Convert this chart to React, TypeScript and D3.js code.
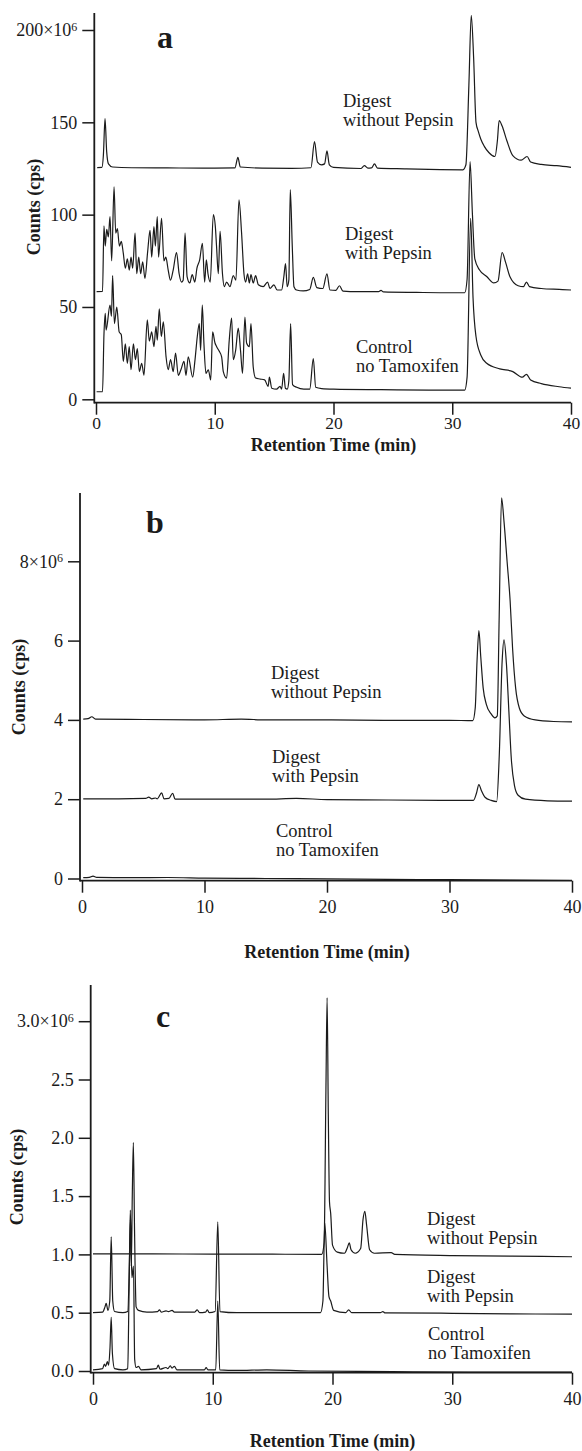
import React, { useEffect, useRef } from 'react'
import * as d3 from 'd3'

// retention time ticks shared by the three panels
const xTicks = [0, 10, 20, 30, 40]
const aTicks = [0, 50, 100, 150, 200]
const bTicks = [0, 2, 4, 6, 8]
const cTicks = [0, 0.5, 1, 1.5, 2, 2.5, 3]

const sampleNames = [
  ['Digest', 'without Pepsin'],
  ['Digest', 'with Pepsin'],
  ['Control', 'no Tamoxifen'],
]

// panel a : counts x10^6, [min, counts]
const aWithout = [[0.1,125.5],[0.5,125.6],[0.62,132],[0.76,152],[0.9,134],[1.05,127.5],[1.4,125.8],[3,125.4],[6,125.3],[9,125.2],[11.7,125.3],[11.95,131],[12.15,125.8],[14,125.2],[16.5,125.1],[18.1,125.4],[18.4,139.5],[18.65,128.5],[19.0,127],[19.25,127.5],[19.45,134.5],[19.65,127],[20,125.6],[22.3,125],[22.6,126.5],[22.9,125.2],[23.2,125.3],[23.45,127.5],[23.7,125.2],[26,124.8],[29,124.4],[30.9,124.3],[31.15,127],[31.4,170],[31.6,208],[31.8,185],[32.0,150],[32.2,145],[32.4,141],[32.7,137],[33.1,133.5],[33.6,131.5],[33.8,140],[33.95,151],[34.2,148],[34.6,140],[35.1,132],[35.8,129.5],[36.3,131.5],[36.6,128.5],[37.5,127.2],[38.8,126.5],[40,125.6]]

const aWith = [[0.05,58.3],[0.55,58.4],[0.67,94],[0.78,83],[0.9,92],[1.04,88],[1.18,99],[1.32,75],[1.52,115],[1.66,90],[1.8,92.5],[1.97,83],[2.13,85.5],[2.3,79],[2.47,71],[2.64,76],[2.8,70],[2.95,77],[3.09,71],[3.29,90],[3.43,68],[3.6,77],[3.76,68],[3.93,74.5],[4.12,65.5],[4.35,80],[4.55,91.5],[4.69,77],[4.88,93.5],[5.0,83],[5.16,99],[5.27,77],[5.52,98],[5.72,75],[5.88,77],[6.08,70],[6.27,64.5],[6.5,70],[6.78,79.5],[7.0,68],[7.2,63.5],[7.34,64.5],[7.5,90],[7.67,66.5],[7.9,63],[8.1,67.5],[8.32,63.5],[8.5,71],[8.73,75.5],[8.96,84.5],[9.15,63.5],[9.29,75.5],[9.43,68],[9.62,63.5],[9.88,100],[10.05,93.5],[10.15,83],[10.3,68],[10.45,91],[10.65,68],[10.8,61],[11.0,63.5],[11.28,61],[11.56,67],[11.78,64.5],[12.04,108],[12.26,90],[12.46,68],[12.6,63.5],[12.77,68],[12.91,63],[13.05,67.5],[13.24,63],[13.44,67],[13.67,62],[14.08,61],[14.45,63.5],[14.65,60],[14.98,62],[15.26,59.2],[15.63,59.2],[15.82,66.5],[15.96,73.5],[16.1,61],[16.24,64.5],[16.36,113.5],[16.53,82.5],[16.67,61],[16.89,59.2],[17.45,58.7],[18.0,59.5],[18.3,66],[18.6,60.5],[19.1,60],[19.45,68],[19.7,59.2],[20.2,59],[20.5,61.5],[20.8,58.6],[22,58.3],[23.8,58.3],[24.0,59],[24.2,58.2],[27,57.9],[30,57.7],[31.05,57.7],[31.25,65],[31.5,128.7],[31.7,100],[31.9,76],[32.3,70],[32.9,66.5],[33.5,63],[33.85,64],[34.2,79.5],[34.5,74],[34.85,66.5],[35.55,61.5],[36.0,61],[36.25,63.5],[36.5,61],[37.5,60],[39,59.5],[40,59.2]]

const aControl = [[0.05,4.1],[0.55,4.2],[0.67,35],[0.78,46.5],[0.85,37.5],[1.18,51],[1.3,45],[1.4,67],[1.55,41],[1.75,50],[1.95,36.5],[2.13,35],[2.3,20.5],[2.47,30],[2.64,19.5],[2.8,28.5],[2.95,16],[3.15,30],[3.32,21.5],[3.48,27.5],[3.65,15],[3.85,19.5],[4.04,13],[4.32,43],[4.49,31.5],[4.69,36.5],[4.88,28.5],[5.05,39.5],[5.16,32],[5.33,49],[5.5,34],[5.67,42],[5.9,23],[6.08,16],[6.28,21.5],[6.5,15],[6.7,25],[6.93,13],[7.15,16],[7.41,20.5],[7.58,13],[7.77,23],[8.14,12],[8.34,21.5],[8.53,34],[8.7,41],[8.81,26.5],[8.95,51],[9.09,30],[9.26,14],[9.46,16],[9.66,10.5],[9.82,36.5],[10.02,30.5],[10.16,28.5],[10.38,26],[10.58,23],[10.72,15],[11.0,11.5],[11.22,32],[11.42,44],[11.56,21.5],[11.76,26.5],[11.98,38.5],[12.17,26.5],[12.34,14],[12.54,44.5],[12.68,30.5],[12.91,28.5],[13.05,41],[13.24,17.5],[13.44,11.5],[13.8,11],[14.2,10.5],[14.5,7],[14.6,12],[14.8,6],[15.2,5.5],[15.5,7],[15.63,5.5],[15.8,14],[15.95,6],[16.1,5.5],[16.24,10],[16.39,41],[16.55,8],[16.9,6.5],[17.5,5.5],[18.0,5.5],[18.3,22],[18.5,6.5],[19,5.8],[20,5.5],[24,5.2],[28,5.0],[31.05,5.0],[31.25,12],[31.55,98],[31.75,55],[32.0,34],[32.4,24],[32.9,19.5],[34,16.5],[35.1,15],[35.9,12],[36.25,13.5],[36.6,10.5],[37.5,8.5],[39,6.8],[40,6.0]]

// panel b : counts x10^6
const bWithout = [[0.1,4.02],[0.5,4.03],[0.8,4.08],[1.1,4.02],[5,4.01],[10,4.0],[13,4.02],[15,4.0],[20,4.0],[25,3.99],[30,3.99],[31.9,3.98],[32.1,4.3],[32.25,5.5],[32.4,6.25],[32.55,5.6],[32.75,4.8],[33.0,4.4],[33.4,4.15],[33.7,4.05],[33.9,4.1],[34.05,6.5],[34.25,9.6],[34.45,9.0],[34.7,8.0],[34.95,7.0],[35.15,5.8],[35.4,4.8],[35.7,4.3],[36.1,4.1],[37,4.0],[38.5,3.96],[40,3.95]]

const bWith = [[0.1,2.01],[3,2.01],[5.2,2.02],[5.45,2.05],[5.7,2.01],[6.0,2.03],[6.15,2.01],[6.5,2.16],[6.7,2.01],[7.1,2.02],[7.4,2.15],[7.6,2.0],[10,2.0],[15,2.0],[17.5,2.02],[20,1.99],[25,1.98],[30,1.97],[31.95,1.97],[32.2,2.15],[32.4,2.37],[32.6,2.22],[32.9,2.05],[33.4,1.97],[33.85,1.94],[34.05,3.0],[34.3,5.5],[34.45,6.02],[34.65,5.4],[34.85,4.2],[35.05,3.0],[35.3,2.35],[35.6,2.1],[36.2,2.0],[38,1.96],[40,1.95]]

const bControl = [[0.1,0.02],[0.6,0.03],[0.9,0.06],[1.2,0.03],[4,0.02],[7,0.025],[10,0.01],[15,0.0],[20,-0.01],[25,-0.02],[30,-0.03],[35,-0.04],[40,-0.05]]

// panel c : counts x10^6
const cWithout = [[0.0,1.005],[5,1.004],[10,1.003],[15,1.002],[19.1,1.0],[19.3,1.1],[19.45,2.4],[19.55,3.2],[19.65,2.2],[19.75,1.45],[19.85,1.35],[20.0,1.08],[20.4,1.02],[21.0,1.01],[21.25,1.06],[21.4,1.1],[21.55,1.04],[21.9,1.01],[22.35,1.05],[22.55,1.3],[22.7,1.37],[22.85,1.25],[23.1,1.04],[23.5,1.01],[24.9,1.015],[25.2,1.0],[30,0.99],[35,0.985],[40,0.98]]

const cWith = [[0.0,0.5],[0.8,0.505],[1.0,0.55],[1.1,0.58],[1.25,0.52],[1.4,0.6],[1.52,1.15],[1.65,0.6],[1.8,0.51],[2.5,0.5],[2.9,0.51],[3.05,1.0],[3.12,1.38],[3.2,0.9],[3.28,1.5],[3.37,1.96],[3.47,1.2],[3.6,0.55],[3.8,0.52],[4.5,0.505],[5.4,0.51],[5.55,0.525],[5.7,0.505],[6.1,0.515],[6.3,0.51],[6.6,0.52],[6.8,0.505],[8.5,0.505],[8.7,0.525],[8.9,0.5],[9.4,0.505],[9.55,0.525],[9.7,0.5],[10.2,0.51],[10.42,1.28],[10.6,0.51],[12,0.5],[15,0.5],[19.0,0.5],[19.2,0.6],[19.35,1.27],[19.55,0.9],[19.7,0.64],[19.85,0.6],[20.1,0.52],[21.1,0.5],[21.35,0.525],[21.6,0.5],[24.0,0.5],[24.2,0.51],[24.4,0.498],[30,0.495],[35,0.49],[40,0.488]]

const cControl = [[0.0,0.01],[0.8,0.02],[0.95,0.06],[1.05,0.04],[1.2,0.08],[1.3,0.05],[1.42,0.2],[1.52,0.46],[1.62,0.15],[1.8,0.02],[2.5,0.01],[2.9,0.02],[3.0,0.6],[3.12,1.3],[3.25,0.8],[3.38,0.9],[3.48,0.1],[3.6,0.03],[3.8,0.04],[4.0,0.01],[5.3,0.02],[5.45,0.05],[5.6,0.015],[6.1,0.03],[6.25,0.02],[6.45,0.045],[6.6,0.025],[6.8,0.04],[7.0,0.01],[9.3,0.01],[9.45,0.03],[9.6,0.01],[10.25,0.01],[10.42,0.6],[10.58,0.01],[12,0.005],[14.5,0.01],[18,0.0],[25,-0.005],[32,-0.01],[40,-0.01]]

const ink = '#1b1b1b'
const serif = '"Liberation Serif", "Times New Roman", Times, serif'

type Cfg = {
  letter: string
  letterPos: [number, number]
  series: number[][][]
  yTicks: number[]
  topLabel: string
  decimals: number
  xRange: [number, number]
  yRange: [number, number] // pixel for 0, pixel for max tick
  axisX: number
  axisTop: number
  xAxisY: number
  tickPad: number
  tickFont: number
  titleY: number
  yLabelPos: [number, number]
  names: { x: number; y: number }[]
}

const panels: Cfg[] = [
  {
    letter: 'a', letterPos: [165, 48], series: [aWithout, aWith, aControl], yTicks: aTicks,
    topLabel: '200', decimals: 0, xRange: [96, 571], yRange: [399.3, 30], axisX: 94.3, axisTop: 13,
    xAxisY: 402.7, tickPad: 2, tickFont: 17.5, titleY: 451, yLabelPos: [34, 207],
    names: [{ x: 343, y: 107 }, { x: 345, y: 240 }, { x: 356, y: 353 }],
  },
  {
    letter: 'b', letterPos: [155, 533], series: [bWithout, bWith, bControl], yTicks: bTicks,
    topLabel: '8', decimals: 0, xRange: [82, 572], yRange: [878.5, 561.3], axisX: 80, axisTop: 493,
    xAxisY: 880.7, tickPad: 8, tickFont: 18, titleY: 958, yLabelPos: [18.6, 687],
    names: [{ x: 271, y: 679 }, { x: 272, y: 763 }, { x: 276, y: 837 }],
  },
  {
    letter: 'c', letterPos: [163, 1027], series: [cWithout, cWith, cControl], yTicks: cTicks,
    topLabel: '3.0', decimals: 1, xRange: [93, 572], yRange: [1371, 1021.2], axisX: 90.7, axisTop: 985,
    xAxisY: 1372.7, tickPad: 8, tickFont: 18, titleY: 1447, yLabelPos: [16.7, 1177],
    names: [{ x: 427, y: 1225 }, { x: 427, y: 1283 }, { x: 428, y: 1340 }],
  },
]

const Panel = ({ cfg }: { cfg: Cfg }) => {
  const ref = useRef<SVGGElement>(null)
  const topTick = cfg.yTicks[cfg.yTicks.length - 1]
  const x = d3.scaleLinear().domain([0, 40]).range(cfg.xRange)
  const y = d3.scaleLinear().domain([0, topTick]).range(cfg.yRange)
  const line = d3.line<number[]>().x(d => x(d[0])).y(d => y(d[1])).curve(d3.curveMonotoneX)

  useEffect(() => {
    const g = d3.select(ref.current)
    g.selectAll('*').remove()

    const ya = g.append('g')
      .attr('transform', `translate(${cfg.axisX},0)`)
      .call(d3.axisLeft(y).tickValues(cfg.yTicks).tickSize(12).tickPadding(5)
        .tickFormat(d => (+d).toFixed(cfg.decimals)))
    ya.select('.domain').remove()
    ya.selectAll('line').attr('stroke', ink).attr('stroke-width', 1.5)
    ya.selectAll('text').attr('font-size', 18).attr('font-family', serif).attr('fill', ink)
    // top tick gets the x10^6 exponent
    const top = ya.selectAll<SVGGElement, number>('.tick').filter(d => d === topTick).select('text')
    top.text(null)
    top.append('tspan').text(cfg.topLabel + '\u00d710')
    top.append('tspan').attr('dy', '-0.45em').attr('font-size', 12).text('6')

    const xa = g.append('g')
      .attr('transform', `translate(0,${cfg.xAxisY})`)
      .call(d3.axisBottom(x).tickValues(xTicks).tickSize(12).tickPadding(cfg.tickPad).tickFormat(d3.format('d')))
    xa.select('.domain').remove()
    xa.selectAll('line').attr('stroke', ink).attr('stroke-width', 1.5)
    xa.selectAll('text').attr('font-size', cfg.tickFont).attr('font-family', serif).attr('fill', ink)
  }, [])

  return (
    <g>
      {cfg.series.map((s, i) => (
        <path key={i} d={line(s) || ''} fill="none" stroke={ink} strokeWidth={1.2} strokeLinejoin="round" />
      ))}
      <line x1={cfg.axisX} x2={cfg.axisX} y1={cfg.axisTop} y2={cfg.xAxisY + 0.8} stroke={ink} strokeWidth={1.8} />
      <line x1={cfg.axisX} x2={cfg.xRange[1]} y1={cfg.xAxisY} y2={cfg.xAxisY} stroke={ink} strokeWidth={1.8} />
      <g ref={ref} />
      <text x={cfg.letterPos[0]} y={cfg.letterPos[1]} textAnchor="middle" fontSize={32} fontWeight="bold"
        fontFamily={serif} fill={ink}>{cfg.letter}</text>
      <text transform={`translate(${cfg.yLabelPos[0]},${cfg.yLabelPos[1]}) rotate(-90)`} textAnchor="middle"
        dominantBaseline="central" fontSize={18} fontWeight="bold" fontFamily={serif} fill={ink}>Counts (cps)</text>
      <text x={(cfg.xRange[0] + cfg.xRange[1]) / 2} y={cfg.titleY} textAnchor="middle" fontSize={18}
        fontWeight="bold" fontFamily={serif} fill={ink}>Retention Time (min)</text>
      {cfg.names.map((n, i) => (
        <text key={i} x={n.x} y={n.y} fontSize={18.5} fontFamily={serif} fill={ink}>
          <tspan x={n.x}>{sampleNames[i][0]}</tspan>
          <tspan x={n.x} dy={18.5}>{sampleNames[i][1]}</tspan>
        </text>
      ))}
    </g>
  )
}

export default function App() {
  return (
    <svg width={582} height={1451} style={{ position: 'absolute', left: 0, top: 0, background: '#fff' }}>
      <rect width={582} height={1451} fill="#fff" />
      {panels.map(p => <Panel key={p.letter} cfg={p} />)}
    </svg>
  )
}
